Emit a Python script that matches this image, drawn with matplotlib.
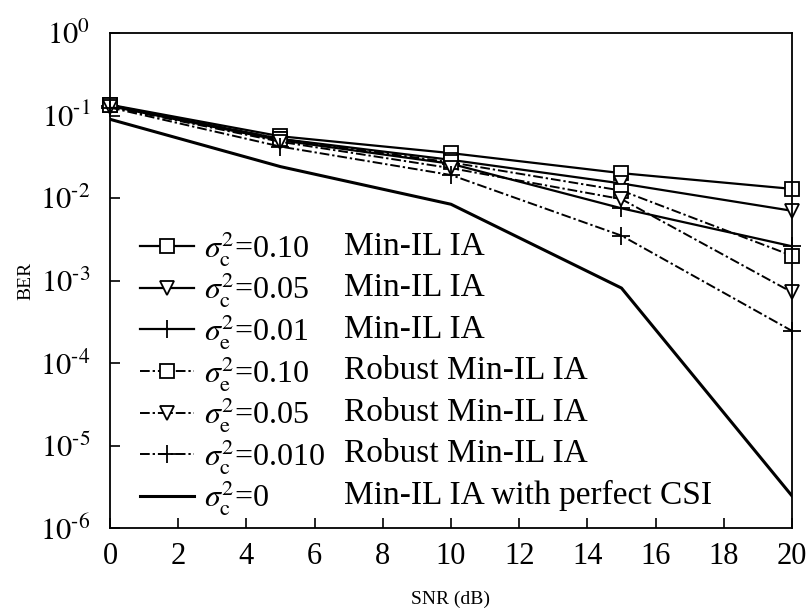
import matplotlib
matplotlib.use('Agg')
import matplotlib.pyplot as plt
from matplotlib.ticker import FixedLocator, FuncFormatter

plt.rcParams['font.family'] = ['Liberation Serif', 'DejaVu Serif']
plt.rcParams['mathtext.fontset'] = 'stix'

# Data
snr = [0, 5, 10, 15, 20]
min_010 = [0.135, 0.056, 0.035, 0.020, 0.0129]
min_005 = [0.132, 0.052, 0.029, 0.0150, 0.0070]
min_001 = [0.130, 0.050, 0.026, 0.0075, 0.0026]
rob_010 = [0.134, 0.052, 0.027, 0.0123, 0.0020]
rob_005 = [0.128, 0.048, 0.023, 0.0097, 0.00072]
rob_001 = [0.125, 0.042, 0.019, 0.0035, 0.000245]
perfect = [0.090, 0.024, 0.0084, 0.00081, 0.00000245]

sigma_labels = [r'$\sigma_{\mathrm{c}}^{2}$=0.10', r'$\sigma_{\mathrm{c}}^{2}$=0.05',
                r'$\sigma_{\mathrm{e}}^{2}$=0.01', r'$\sigma_{\mathrm{e}}^{2}$=0.10',
                r'$\sigma_{\mathrm{e}}^{2}$=0.05', r'$\sigma_{\mathrm{c}}^{2}$=0.010',
                r'$\sigma_{\mathrm{c}}^{2}$=0']
desc_labels = ['Min-IL IA', 'Min-IL IA', 'Min-IL IA', 'Robust Min-IL IA',
               'Robust Min-IL IA', 'Robust Min-IL IA', 'Min-IL IA with perfect CSI']

fig = plt.figure(figsize=(8.07, 6.10), dpi=100)
ax = fig.add_axes([0.1363, 0.1344, 0.8451, 0.8115])

dd = (0, (5, 1.5, 1.2, 1.5))
mk = dict(color='black', markerfacecolor='white', markeredgecolor='black', markersize=10,
          markeredgewidth=1.3, clip_on=False)
pk = dict(color='black', markersize=13, markeredgewidth=1.3, clip_on=False)
ax.plot(snr, min_010, linestyle='-', lw=1.6, marker='s', label=sigma_labels[0], **mk)
ax.plot(snr, min_005, linestyle='-', lw=1.6, marker='v', label=sigma_labels[1], **mk)
ax.plot(snr, min_001, linestyle='-', lw=1.6, marker='+', label=sigma_labels[2], **pk)
ax.plot(snr, rob_010, linestyle=dd, lw=1.4, marker='s', label=sigma_labels[3], **mk)
ax.plot(snr, rob_005, linestyle=dd, lw=1.4, marker='v', label=sigma_labels[4], **mk)
ax.plot(snr, rob_001, linestyle=dd, lw=1.4, marker='+', label=sigma_labels[5], **pk)
ax.plot(snr, perfect, linestyle='-', lw=2.2, color='black', label=sigma_labels[6])

ax.set_yscale('log')
ax.set_ylim(1e-6, 1)
ax.set_xlim(0, 20)
ax.set_xticks(range(0, 21, 2))
ax.yaxis.set_major_locator(FixedLocator([1e-6, 1e-5, 1e-4, 1e-3, 1e-2, 1e-1, 1]))
ax.minorticks_off()


def fmt(v, pos):
    e = int(round(__import__('math').log10(v)))
    return '$10^{' + str(e).replace('-', '\u2010') + '}$'


ax.yaxis.set_major_formatter(FuncFormatter(fmt))
ax.tick_params(axis='both', direction='in', length=7, width=1.2, labelsize=22,
               top=False, right=False)
ax.tick_params(axis='x', pad=10)
ax.tick_params(axis='y', pad=14)
for s in ax.spines.values():
    s.set_linewidth(1.3)

ax.set_xlabel('SNR (dB)', fontsize=14, labelpad=14)
ax.set_ylabel('BER', fontsize=14, labelpad=4)

leg = ax.legend(loc='lower left', bbox_to_anchor=(0.025, -0.004), frameon=False,
                fontsize=23, handlelength=1.7, handletextpad=0.3, labelspacing=0.08,
                borderaxespad=0)

# second legend column with the method names
fig.canvas.draw()
inv = ax.transAxes.inverted()
for t, d in zip(leg.get_texts(), desc_labels):
    bb = t.get_window_extent()
    yc = inv.transform((0, bb.y0 + bb.height * 0.55))[1]
    ax.text(0.343, yc, d, transform=ax.transAxes, fontsize=24, va='center', ha='left')

fig.savefig('out.png', dpi=100)
